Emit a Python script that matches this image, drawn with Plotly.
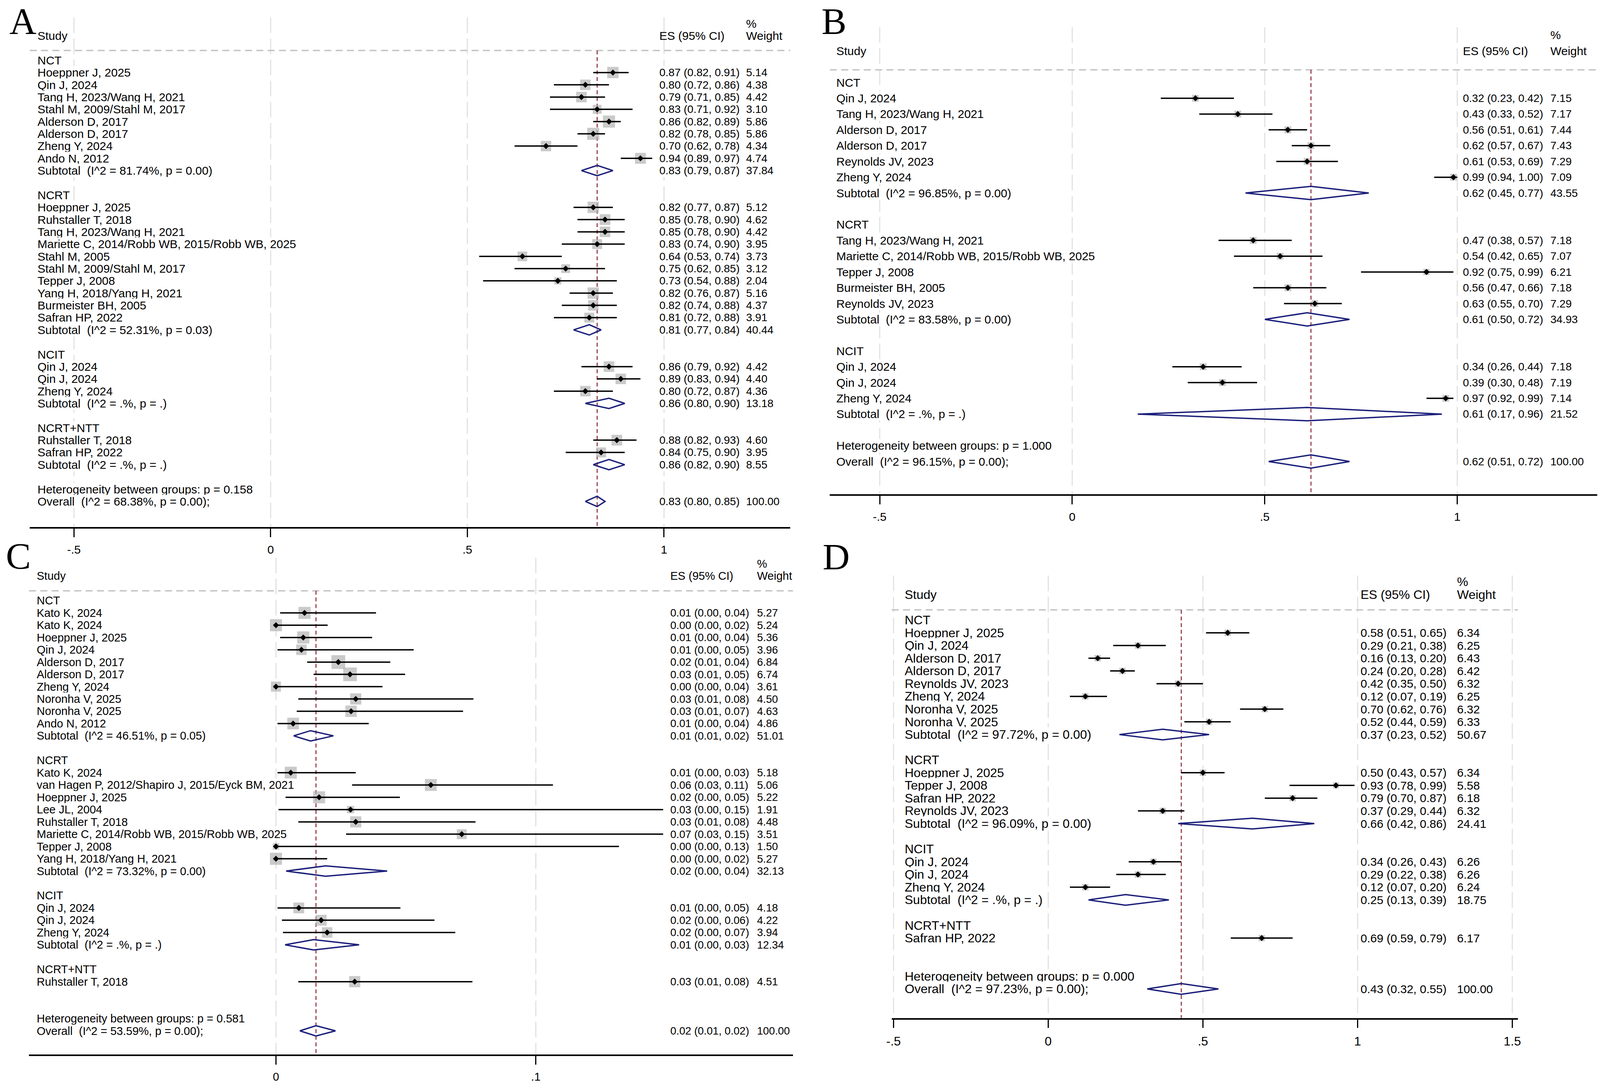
import math
import plotly.graph_objects as go

W, H = 4196, 2772

# ---------------- panel A ----------------
A_groups = ["NCT", "NCRT", "NCIT", "NCRT+NTT"]
A_study = ["Hoeppner J, 2025", "Qin J, 2024", "Tang H, 2023/Wang H, 2021", "Stahl M, 2009/Stahl M, 2017",
           "Alderson D, 2017", "Alderson D, 2017", "Zheng Y, 2024", "Ando N, 2012",
           "Hoeppner J, 2025", "Ruhstaller T, 2018", "Tang H, 2023/Wang H, 2021",
           "Mariette C, 2014/Robb WB, 2015/Robb WB, 2025", "Stahl M, 2005", "Stahl M, 2009/Stahl M, 2017",
           "Tepper J, 2008", "Yang H, 2018/Yang H, 2021", "Burmeister BH, 2005", "Safran HP, 2022",
           "Qin J, 2024", "Qin J, 2024", "Zheng Y, 2024",
           "Ruhstaller T, 2018", "Safran HP, 2022"]
A_grp = [0] * 8 + [1] * 10 + [2] * 3 + [3] * 2
A_es = [0.87, 0.80, 0.79, 0.83, 0.86, 0.82, 0.70, 0.94,
        0.82, 0.85, 0.85, 0.83, 0.64, 0.75, 0.73, 0.82, 0.82, 0.81,
        0.86, 0.89, 0.80, 0.88, 0.84]
A_lo = [0.82, 0.72, 0.71, 0.71, 0.82, 0.78, 0.62, 0.89,
        0.77, 0.78, 0.78, 0.74, 0.53, 0.62, 0.54, 0.76, 0.74, 0.72,
        0.79, 0.83, 0.72, 0.82, 0.75]
A_hi = [0.91, 0.86, 0.85, 0.92, 0.89, 0.85, 0.78, 0.97,
        0.87, 0.90, 0.90, 0.90, 0.74, 0.85, 0.88, 0.87, 0.88, 0.88,
        0.92, 0.94, 0.87, 0.93, 0.90]
A_wt = [5.14, 4.38, 4.42, 3.10, 5.86, 5.86, 4.34, 4.74,
        5.12, 4.62, 4.42, 3.95, 3.73, 3.12, 2.04, 5.16, 4.37, 3.91,
        4.42, 4.40, 4.36, 4.60, 3.95]
A_sub_es = [0.83, 0.81, 0.86, 0.86]
A_sub_lo = [0.79, 0.77, 0.80, 0.82]
A_sub_hi = [0.87, 0.84, 0.90, 0.90]
A_sub_wt = [37.84, 40.44, 13.18, 8.55]
A_sub_het = ["I^2 = 81.74%, p = 0.00", "I^2 = 52.31%, p = 0.03", "I^2 = .%, p = .", "I^2 = .%, p = ."]
A_between = "0.158"
A_overall = [0.83, 0.80, 0.85]
A_overall_het = "I^2 = 68.38%, p = 0.00"

# ---------------- panel B ----------------
B_groups = ["NCT", "NCRT", "NCIT"]
B_study = ["Qin J, 2024", "Tang H, 2023/Wang H, 2021", "Alderson D, 2017", "Alderson D, 2017",
           "Reynolds JV, 2023", "Zheng Y, 2024",
           "Tang H, 2023/Wang H, 2021", "Mariette C, 2014/Robb WB, 2015/Robb WB, 2025", "Tepper J, 2008",
           "Burmeister BH, 2005", "Reynolds JV, 2023",
           "Qin J, 2024", "Qin J, 2024", "Zheng Y, 2024"]
B_grp = [0] * 6 + [1] * 5 + [2] * 3
B_es = [0.32, 0.43, 0.56, 0.62, 0.61, 0.99, 0.47, 0.54, 0.92, 0.56, 0.63, 0.34, 0.39, 0.97]
B_lo = [0.23, 0.33, 0.51, 0.57, 0.53, 0.94, 0.38, 0.42, 0.75, 0.47, 0.55, 0.26, 0.30, 0.92]
B_hi = [0.42, 0.52, 0.61, 0.67, 0.69, 1.00, 0.57, 0.65, 0.99, 0.66, 0.70, 0.44, 0.48, 0.99]
B_wt = [7.15, 7.17, 7.44, 7.43, 7.29, 7.09, 7.18, 7.07, 6.21, 7.18, 7.29, 7.18, 7.19, 7.14]
B_sub_es = [0.62, 0.61, 0.61]
B_sub_lo = [0.45, 0.50, 0.17]
B_sub_hi = [0.77, 0.72, 0.96]
B_sub_wt = [43.55, 34.93, 21.52]
B_sub_het = ["I^2 = 96.85%, p = 0.00", "I^2 = 83.58%, p = 0.00", "I^2 = .%, p = ."]
B_between = "1.000"
B_overall = [0.62, 0.51, 0.72]
B_overall_het = "I^2 = 96.15%, p = 0.00"

# ---------------- panel C ----------------
C_groups = ["NCT", "NCRT", "NCIT", "NCRT+NTT"]
C_study = ["Kato K, 2024", "Kato K, 2024", "Hoeppner J, 2025", "Qin J, 2024", "Alderson D, 2017",
           "Alderson D, 2017", "Zheng Y, 2024", "Noronha V, 2025", "Noronha V, 2025", "Ando N, 2012",
           "Kato K, 2024", "van Hagen P, 2012/Shapiro J, 2015/Eyck BM, 2021", "Hoeppner J, 2025",
           "Lee JL, 2004", "Ruhstaller T, 2018", "Mariette C, 2014/Robb WB, 2015/Robb WB, 2025",
           "Tepper J, 2008", "Yang H, 2018/Yang H, 2021",
           "Qin J, 2024", "Qin J, 2024", "Zheng Y, 2024",
           "Ruhstaller T, 2018"]
C_grp = [0] * 10 + [1] * 8 + [2] * 3 + [3]
C_es = [0.011, 0.0, 0.0105, 0.0098, 0.024, 0.0285, 0.0, 0.0307, 0.0289, 0.0066,
        0.0057, 0.0596, 0.0166, 0.0287, 0.0307, 0.0715, 0.0, 0.0,
        0.0088, 0.0174, 0.0197, 0.0303]
C_lo = [0.0016, 0.0, 0.0016, 0.0006, 0.012, 0.0145, 0.0, 0.0086, 0.008, 0.0006,
        0.0006, 0.0293, 0.0037, 0.001, 0.0086, 0.027, 0.0, 0.0,
        0.0006, 0.0023, 0.0027, 0.0086]
C_hi = [0.0385, 0.0199, 0.037, 0.053, 0.044, 0.0497, 0.041, 0.076, 0.072, 0.0357,
        0.0307, 0.1066, 0.0477, 0.149, 0.0768, 0.149, 0.132, 0.0197,
        0.0479, 0.061, 0.069, 0.0756]
C_wt = [5.27, 5.24, 5.36, 3.96, 6.84, 6.74, 3.61, 4.50, 4.63, 4.86,
        5.18, 5.06, 5.22, 1.91, 4.48, 3.51, 1.50, 5.27,
        4.18, 4.22, 3.94, 4.51]
C_sub_es = [0.0133, 0.0191, 0.0145, None]
C_sub_lo = [0.0068, 0.0039, 0.0035, None]
C_sub_hi = [0.0221, 0.0428, 0.032, None]
C_sub_wt = [51.01, 32.13, 12.34, None]
C_sub_het = ["I^2 = 46.51%, p = 0.05", "I^2 = 73.32%, p = 0.00", "I^2 = .%, p = .", None]
C_between = "0.581"
C_overall = [0.0154, 0.0092, 0.0229]
C_overall_het = "I^2 = 53.59%, p = 0.00"

# ---------------- panel D ----------------
D_groups = ["NCT", "NCRT", "NCIT", "NCRT+NTT"]
D_study = ["Hoeppner J, 2025", "Qin J, 2024", "Alderson D, 2017", "Alderson D, 2017", "Reynolds JV, 2023",
           "Zheng Y, 2024", "Noronha V, 2025", "Noronha V, 2025",
           "Hoeppner J, 2025", "Tepper J, 2008", "Safran HP, 2022", "Reynolds JV, 2023",
           "Qin J, 2024", "Qin J, 2024", "Zheng Y, 2024",
           "Safran HP, 2022"]
D_grp = [0] * 8 + [1] * 4 + [2] * 3 + [3]
D_es = [0.58, 0.29, 0.16, 0.24, 0.42, 0.12, 0.70, 0.52, 0.50, 0.93, 0.79, 0.37, 0.34, 0.29, 0.12, 0.69]
D_lo = [0.51, 0.21, 0.13, 0.20, 0.35, 0.07, 0.62, 0.44, 0.43, 0.78, 0.70, 0.29, 0.26, 0.22, 0.07, 0.59]
D_hi = [0.65, 0.38, 0.20, 0.28, 0.50, 0.19, 0.76, 0.59, 0.57, 0.99, 0.87, 0.44, 0.43, 0.38, 0.20, 0.79]
D_wt = [6.34, 6.25, 6.43, 6.42, 6.32, 6.25, 6.32, 6.33, 6.34, 5.58, 6.18, 6.32, 6.26, 6.26, 6.24, 6.17]
D_sub_es = [0.37, 0.66, 0.25, None]
D_sub_lo = [0.23, 0.42, 0.13, None]
D_sub_hi = [0.52, 0.86, 0.39, None]
D_sub_wt = [50.67, 24.41, 18.75, None]
D_sub_het = ["I^2 = 97.72%, p = 0.00", "I^2 = 96.09%, p = 0.00", "I^2 = .%, p = .", None]
D_between = "0.000"
D_overall = [0.43, 0.32, 0.55]
D_overall_het = "I^2 = 97.23%, p = 0.00"

# pixel geometry of each panel (axis line ends, data origin, px per unit, rows, text columns)
panels = [
    dict(letter="A", lx=9, ly=0, lanchor="top", left=64, right=2069, x0=699, ppu=1037, top=0, axis=1355,
         row0=155, step=31.5, study_px=83, es_px=1723, wt_px=1951, lab=30, num=28, box_k=12.8,
         ticks=[-0.5, 0, 0.5, 1], ticktext=["-.5", "0", ".5", "1"],
         data=dict(groups=A_groups, study=A_study, grp=A_grp, es=A_es, lo=A_lo, hi=A_hi, wt=A_wt,
                   sub_es=A_sub_es, sub_lo=A_sub_lo, sub_hi=A_sub_hi, sub_wt=A_sub_wt, sub_het=A_sub_het,
                   between=A_between, overall=A_overall, overall_het=A_overall_het)),
    dict(letter="B", lx=2150, ly=0, lanchor="top", left=2173, right=4196, x0=2812, ppu=1015, top=0, axis=1271,
         row0=212, step=40.6, study_px=2189, es_px=3841, wt_px=4071, lab=30, num=28, box_k=6.5,
         ticks=[-0.5, 0, 0.5, 1], ticktext=["-.5", "0", ".5", "1"],
         data=dict(groups=B_groups, study=B_study, grp=B_grp, es=B_es, lo=B_lo, hi=B_hi, wt=B_wt,
                   sub_es=B_sub_es, sub_lo=B_sub_lo, sub_hi=B_sub_hi, sub_wt=B_sub_wt, sub_het=B_sub_het,
                   between=B_between, overall=B_overall, overall_het=B_overall_het)),
    dict(letter="C", lx=0, ly=1430, lanchor="middle", left=62, right=2076, x0=713, ppu=6850, top=1395,
         axis=2711, row0=1544, step=31.6, study_px=81, es_px=1752, wt_px=1980, lab=29, num=27.5, box_k=13.5,
         ticks=[0, 0.1], ticktext=["0", ".1"],
         data=dict(groups=C_groups, study=C_study, grp=C_grp, es=C_es, lo=C_lo, hi=C_hi, wt=C_wt,
                   sub_es=C_sub_es, sub_lo=C_sub_lo, sub_hi=C_sub_hi, sub_wt=C_sub_wt, sub_het=C_sub_het,
                   between=C_between, overall=C_overall, overall_het=C_overall_het)),
    dict(letter="D", lx=2153, ly=1432, lanchor="middle", left=2336, right=3987, x0=2748.75, ppu=815.5,
         top=1395, axis=2617, row0=1594, step=32.7, study_px=2369, es_px=3571, wt_px=3825, lab=32, num=30,
         box_k=6.5, ticks=[-0.5, 0, 0.5, 1, 1.5], ticktext=["-.5", "0", ".5", "1", "1.5"],
         data=dict(groups=D_groups, study=D_study, grp=D_grp, es=D_es, lo=D_lo, hi=D_hi, wt=D_wt,
                   sub_es=D_sub_es, sub_lo=D_sub_lo, sub_hi=D_sub_hi, sub_wt=D_sub_wt, sub_het=D_sub_het,
                   between=D_between, overall=D_overall, overall_het=D_overall_het)),
]

FONT = "Liberation Sans, Arial, sans-serif"
NAVY = "#1b1f7a"
NB = "\u00a0"


def fmt_ci(e, l, h):
    return f"{e:.2f} ({l:.2f}, {h:.2f})"


fig = go.Figure()
layout_axes = {}
annotations = []


def label(xa, ya, x, y, text, size, bg=True):
    annotations.append(dict(x=x, y=y, xref=xa, yref=ya, text=text, showarrow=False,
                            xanchor="left", yanchor="middle", borderpad=0,
                            bgcolor="white" if bg else "rgba(0,0,0,0)",
                            font=dict(family=FONT, size=size, color="black")))


for n, p in enumerate(panels, start=1):
    d = p["data"]
    xa = "x" if n == 1 else f"x{n}"
    ya = "y" if n == 1 else f"y{n}"
    px2x = lambda v, p=p: (v - p["x0"]) / p["ppu"]
    xr = [px2x(p["left"]), px2x(p["right"])]
    ybot = (p["axis"] - p["row0"]) / p["step"]
    ytop = (p["top"] - p["row0"]) / p["step"]
    sx, ex, wx = px2x(p["study_px"]), px2x(p["es_px"]), px2x(p["wt_px"])

    # lay out rows
    st_y, sub_rows = [], []
    r = 0
    for g, gname in enumerate(d["groups"]):
        label(xa, ya, sx, r, gname, p["lab"])
        r += 1
        for i, gi in enumerate(d["grp"]):
            if gi != g:
                continue
            label(xa, ya, sx, r, d["study"][i], p["lab"])
            label(xa, ya, ex, r, fmt_ci(d["es"][i], d["lo"][i], d["hi"][i]), p["num"])
            label(xa, ya, wx, r, f"{d['wt'][i]:.2f}", p["num"])
            st_y.append(r)
            r += 1
        if d["sub_es"][g] is not None:
            label(xa, ya, sx, r, f"Subtotal{NB} (" + d["sub_het"][g] + ")", p["lab"])
            label(xa, ya, ex, r, fmt_ci(d["sub_es"][g], d["sub_lo"][g], d["sub_hi"][g]), p["num"])
            label(xa, ya, wx, r, f"{d['sub_wt'][g]:.2f}", p["num"])
            sub_rows.append((r, d["sub_es"][g], d["sub_lo"][g], d["sub_hi"][g]))
        r += 2
    label(xa, ya, sx, r, "Heterogeneity between groups: p = " + d["between"], p["lab"])
    r += 1
    label(xa, ya, sx, r, f"Overall{NB} (" + d["overall_het"] + ");", p["lab"])
    label(xa, ya, ex, r, fmt_ci(*d["overall"]), p["num"])
    label(xa, ya, wx, r, "100.00", p["num"])
    sub_rows.append((r, *d["overall"]))

    # column headers
    label(xa, ya, sx, -2, "Study", p["lab"], bg=False)
    label(xa, ya, ex, -2, "ES (95% CI)", p["lab"], bg=False)
    label(xa, ya, wx, -3, "%", p["lab"], bg=False)
    label(xa, ya, wx, -2, "Weight", p["lab"], bg=False)

    # grid lines
    gx, gy = [], []
    for t in p["ticks"]:
        gx += [t, t, None]; gy += [-3.5, ybot, None]
    fig.add_trace(go.Scatter(x=gx, y=gy, xaxis=xa, yaxis=ya, mode="lines", hoverinfo="skip",
                             line=dict(color="#e2e2e2", width=3, dash="40px,14px"), showlegend=False))
    # header dashed line
    fig.add_trace(go.Scatter(x=xr, y=[-0.8, -0.8], xaxis=xa, yaxis=ya, mode="lines", hoverinfo="skip",
                             line=dict(color="#c4c4c4", width=3.5, dash="18px,11px"), showlegend=False))
    # overall reference line
    ov = d["overall"][0]
    fig.add_trace(go.Scatter(x=[ov, ov], y=[-0.8, ybot], xaxis=xa, yaxis=ya, mode="lines", hoverinfo="skip",
                             line=dict(color="#8b2232", width=2.5, dash="10px,7px"), showlegend=False))
    # weight boxes
    fig.add_trace(go.Scatter(x=d["es"], y=st_y, xaxis=xa, yaxis=ya, mode="markers", cliponaxis=False,
                             marker=dict(symbol="square", color="#b4b4b4",
                                         size=[p["box_k"] * math.sqrt(w) for w in d["wt"]], line_width=0),
                             hoverinfo="skip", showlegend=False))
    # confidence intervals
    cx, cy = [], []
    for yv, l, h in zip(st_y, d["lo"], d["hi"]):
        cx += [l, h, None]; cy += [yv, yv, None]
    fig.add_trace(go.Scatter(x=cx, y=cy, xaxis=xa, yaxis=ya, mode="lines", cliponaxis=False,
                             line=dict(color="black", width=3.5), hoverinfo="skip", showlegend=False))
    # point estimates
    fig.add_trace(go.Scatter(x=d["es"], y=st_y, xaxis=xa, yaxis=ya, mode="markers", cliponaxis=False,
                             marker=dict(symbol="diamond", color="black", size=12, line_width=0),
                             hoverinfo="skip", showlegend=False))
    # pooled diamonds
    dx, dy = [], []
    hh = 0.42
    for yv, e, l, h in sub_rows:
        dx += [l, e, h, e, l, None]; dy += [yv, yv - hh, yv, yv + hh, yv, None]
    fig.add_trace(go.Scatter(x=dx, y=dy, xaxis=xa, yaxis=ya, mode="lines", cliponaxis=False,
                             line=dict(color=NAVY, width=3.5), hoverinfo="skip", showlegend=False))

    xkey = "xaxis" if n == 1 else f"xaxis{n}"
    ykey = "yaxis" if n == 1 else f"yaxis{n}"
    layout_axes[xkey] = dict(domain=[p["left"] / W, p["right"] / W], range=xr, anchor=ya,
                             showline=True, linecolor="black", linewidth=3.5, mirror=False,
                             ticks="outside", ticklen=22, tickwidth=3, tickcolor="black",
                             tickvals=p["ticks"], ticktext=p["ticktext"], ticklabelstandoff=6,
                             tickfont=dict(family=FONT, size=p["lab"], color="black"),
                             showgrid=False, zeroline=False, fixedrange=True)
    layout_axes[ykey] = dict(domain=[1 - p["axis"] / H, 1 - p["top"] / H], range=[ybot, ytop],
                             anchor=xa, visible=False, showgrid=False, zeroline=False)

for p in panels:
    annotations.append(dict(text=p["letter"], x=p["lx"] / W, y=1 - p["ly"] / H, xref="paper", yref="paper",
                            xanchor="left", yanchor=p["lanchor"], showarrow=False, borderpad=0,
                            font=dict(family="Liberation Serif, Times New Roman, serif", size=96,
                                      color="black")))

fig.update_layout(width=W, height=H, margin=dict(l=0, r=0, t=0, b=0),
                  paper_bgcolor="white", plot_bgcolor="white",
                  annotations=annotations, showlegend=False, **layout_axes)

# make the figure fill exactly the visible page, whatever the viewport is
fit_js = """
document.body.style.margin = '0';
document.body.style.overflow = 'hidden';
var gd = document.getElementById('{plot_id}');
var vw = document.documentElement.clientWidth || window.innerWidth;
var vh = document.documentElement.clientHeight || window.innerHeight;
if (vw && vh && (vw !== %d || vh !== %d)) {
    Plotly.relayout(gd, {width: vw, height: vh});
}
""" % (W, H)

fig.write_html("out.html", config={"displayModeBar": False}, post_script=fit_js)
